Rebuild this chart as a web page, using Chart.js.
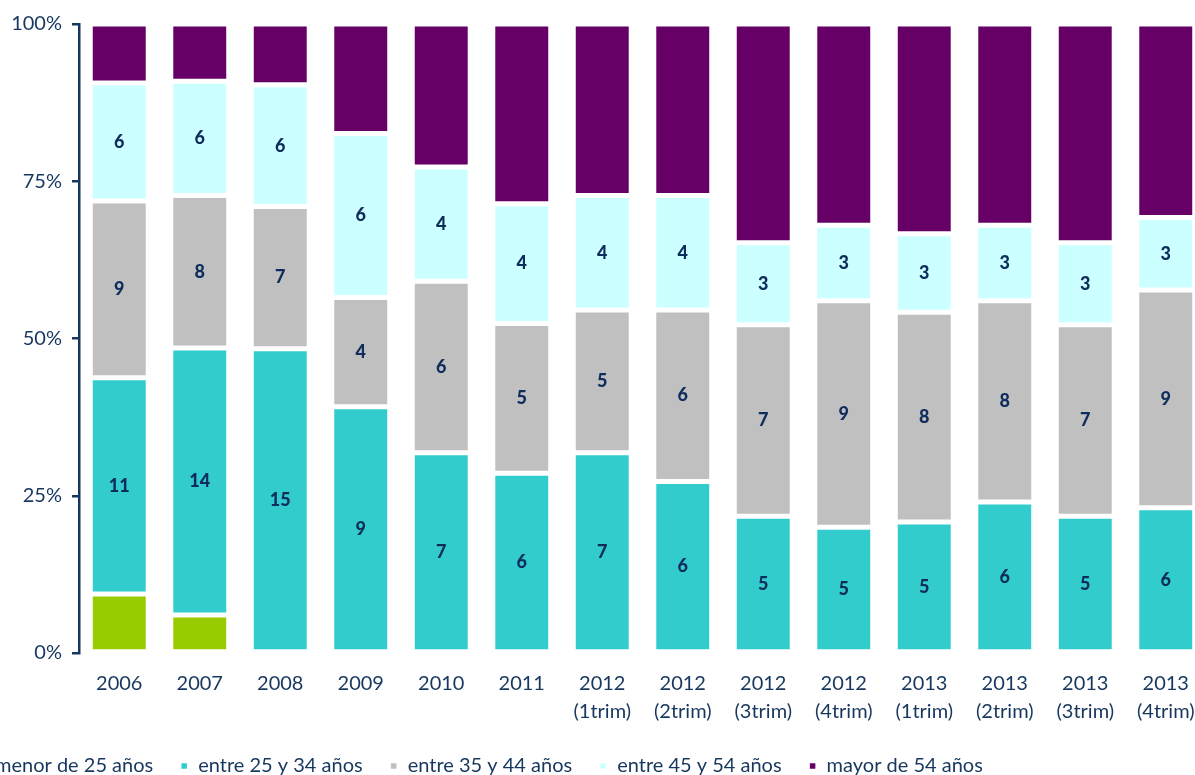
<!DOCTYPE html>
<html>
<head>
<meta charset="utf-8">
<script src="https://cdn.jsdelivr.net/npm/chart.js@4"></script>
<style>
  html, body { margin: 0; padding: 0; overflow: hidden; background: #ffffff; width: 1195px; height: 775px; }
  #wrap { position: absolute; left: -50px; top: 0; width: 1265px; height: 786px; }
</style>
</head>
<body>
<div id="wrap"><canvas id="c" width="1265" height="786"></canvas></div>
<script>
const categories = [
  ['2006'], ['2007'], ['2008'], ['2009'], ['2010'], ['2011'],
  ['2012', '(1trim)'], ['2012', '(2trim)'], ['2012', '(3trim)'], ['2012', '(4trim)'],
  ['2013', '(1trim)'], ['2013', '(2trim)'], ['2013', '(3trim)'], ['2013', '(4trim)']
];
const seriesNames = ['menor de 25 años', 'entre 25 y 34 años', 'entre 35 y 44 años', 'entre 45 y 54 años', 'mayor de 54 años'];
const menor25 = [3, 2, 0, 0, 0, 0, 0, 0, 0, 0, 0, 0, 0, 0];
const entre25_34 = [11, 14, 15, 9, 7, 6, 7, 6, 5, 5, 5, 6, 5, 6];
const entre35_44 = [9, 8, 7, 4, 6, 5, 5, 6, 7, 9, 8, 8, 7, 9];
const entre45_54 = [6, 6, 6, 6, 4, 4, 4, 4, 3, 3, 3, 3, 3, 3];
const mayor54 = [3, 3, 3, 4, 5, 6, 6, 6, 8, 8, 8, 8, 8, 8];
const yTicks = [0, 25, 50, 75, 100];
const colors = ['#99CC00', '#33CCCC', '#C0C0C0', '#CCFFFF', '#660066'];
const labelled = [false, true, true, true, false];

const NAVY = '#17375E';
const FONT = 'Lato, "Open Sans", sans-serif';

const raw = [menor25, entre25_34, entre35_44, entre45_54, mayor54];
const totals = categories.map((_, i) => raw.reduce((s, a) => s + a[i], 0));

const datasets = raw.map((arr, k) => ({
  label: seriesNames[k],
  data: arr.map((v, i) => v === 0 ? null : v / totals[i] * 100),
  rawValues: arr,
  showValues: labelled[k],
  backgroundColor: colors[k],
  borderColor: '#FFFFFF',
  borderWidth: 2.5,
  borderSkipped: false,
  barPercentage: 0.72,
  categoryPercentage: 1.0
}));

const valueLabels = {
  id: 'valueLabels',
  afterDatasetsDraw(chart) {
    const ctx = chart.ctx;
    ctx.save();
    ctx.font = '900 18px ' + FONT;
    ctx.fillStyle = '#0F2D5C';
    ctx.textAlign = 'center';
    ctx.textBaseline = 'middle';
    chart.data.datasets.forEach((ds, k) => {
      if (!ds.showValues) return;
      chart.getDatasetMeta(k).data.forEach((el, i) => {
        const v = ds.rawValues[i];
        if (!v) return;
        ctx.fillText(String(v), el.x, (el.y + el.base) / 2);
      });
    });
    ctx.restore();
  }
};

new Chart(document.getElementById('c'), {
  type: 'bar',
  data: { labels: categories, datasets },
  plugins: [valueLabels],
  options: {
    responsive: false,
    animation: false,
    devicePixelRatio: 1,
    layout: { padding: { top: 24, right: 9, left: 0, bottom: 0 } },
    plugins: {
      tooltip: { enabled: false },
      legend: {
        position: 'bottom',
        align: 'start',
        labels: {
          boxWidth: 8,
          boxHeight: 8,
          padding: 27,
          color: NAVY,
          font: { family: FONT, size: 20 }
        }
      }
    },
    scales: {
      x: {
        stacked: true,
        grid: { display: false, drawTicks: false },
        border: { display: false },
        ticks: {
          color: NAVY,
          padding: 17,
          maxRotation: 0,
          autoSkip: false,
          font: { family: FONT, size: 20, lineHeight: 1.4 }
        },
        afterFit(s) { s.height = 76; }
      },
      y: {
        stacked: true,
        min: 0,
        max: 100,
        afterBuildTicks(s) { s.ticks = yTicks.map(v => ({ value: v })); },
        grid: {
          display: true,
          drawOnChartArea: false,
          drawTicks: true,
          tickLength: 7,
          color: NAVY,
          lineWidth: 2.5
        },
        border: { display: true, color: NAVY, width: 2.5 },
        ticks: {
          color: NAVY,
          padding: 10,
          font: { family: FONT, size: 20 },
          callback: v => v + '%'
        },
        afterFit(s) { s.width = 129; }
      }
    }
  }
});
</script>
</body>
</html>
